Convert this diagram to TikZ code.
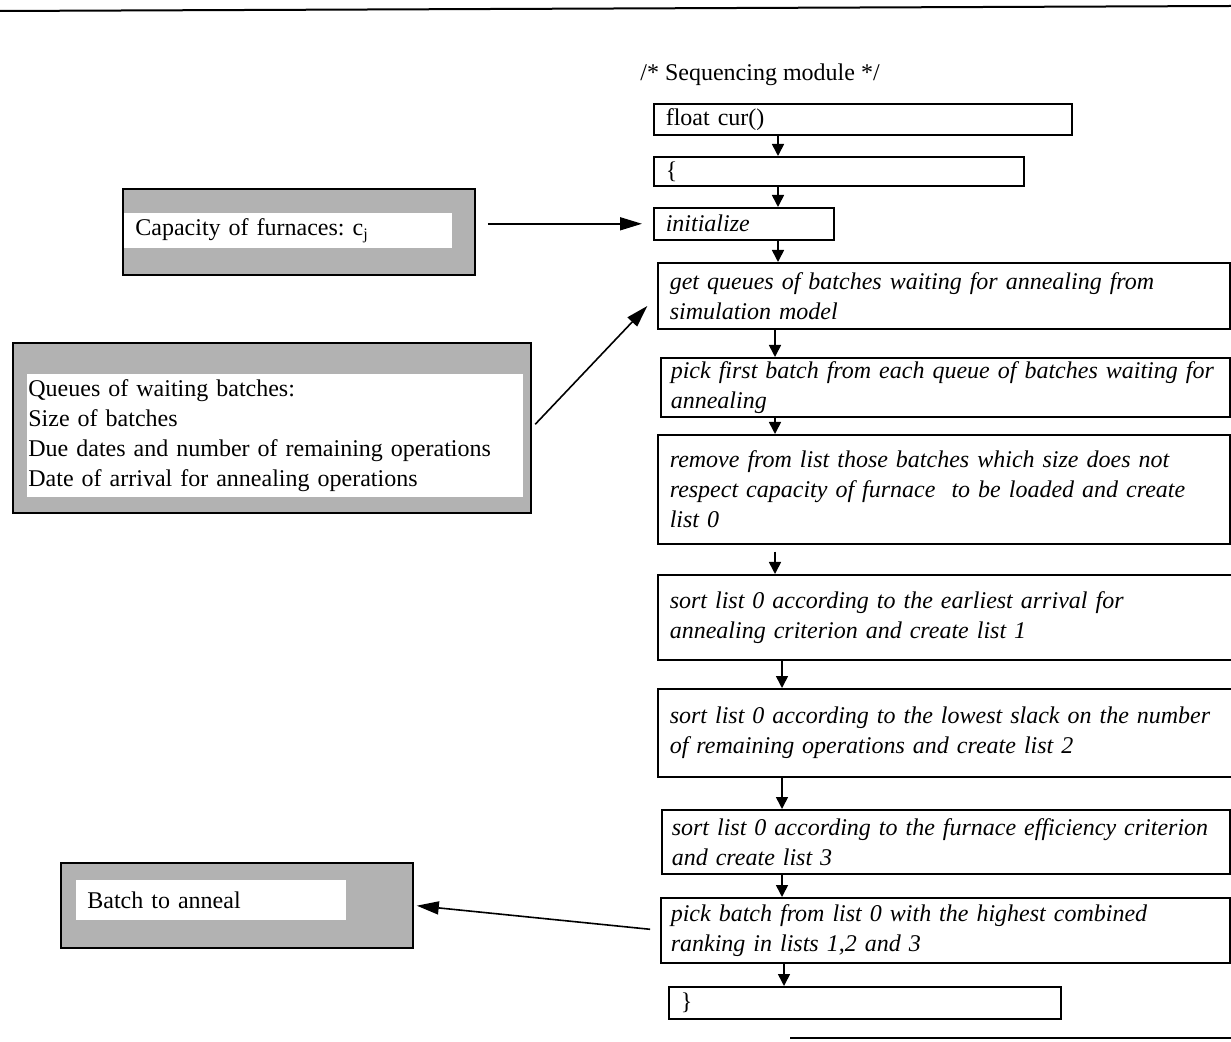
\documentclass[tikz,border=0pt]{standalone}
\usepackage{fontspec}
\setmainfont{Liberation Serif}
\usetikzlibrary{arrows.meta}

\tikzset{
  stepbox/.style={draw, line width=0.8pt, anchor=north west, align=left,
    inner xsep=6pt, inner ysep=0pt, font=\itshape},
  codebox/.style={stepbox, font=\upshape},
  boxdim/.style 2 args={text width=#1, minimum height=#2},
  databox/.style={draw, line width=0.9pt, fill=black!30, anchor=north west, inner sep=0pt},
  datatext/.style={fill=white, anchor=north west, align=left, inner ysep=0pt},
  flow/.style={line width=0.8pt, -{Triangle[length=6pt,width=6pt]}},
  feed/.style={line width=0.8pt, -{Triangle[length=11pt,width=6.5pt]}}
}

\begin{document}
\fontsize{12}{15}\selectfont\frenchspacing\hyphenpenalty=10000
\begin{tikzpicture}[x=0.5pt, y=-0.5pt]
  \useasboundingbox (0,0) rectangle (1231,1042);

  % rules at top and bottom of the page
  \draw[line width=1pt] (0,11) -- (1231,6);
  \draw[line width=1pt] (790,1038) -- (1231,1038);

  \node (title) at (760,75) {/* Sequencing module */};

  % sequencing steps
  \node[codebox, boxdim={197pt}{15.5pt}] (cur)    at (653,103) {float cur()};
  \node[codebox, boxdim={173pt}{14.5pt}] (open)   at (653,156) {\{};
  \node[stepbox, boxdim={78pt}{16pt}]    (init)   at (653,207) {initialize};
  \node[stepbox, boxdim={274pt}{33pt}]   (getq)   at (657,262)
    {get queues of batches waiting for annealing from\\simulation model};
  \node[stepbox, boxdim={274.5pt}{29.5pt}, inner xsep=5pt] (pickf) at (660,357)
    {pick first batch from each queue of batches waiting for\\annealing};
  \node[stepbox, boxdim={274pt}{54.5pt}] (remove) at (657,434)
    {remove from list those batches which size does not\\respect capacity of furnace\ \ to be loaded and create\\list 0};
  \node[stepbox, boxdim={275pt}{42.5pt}] (sortA)  at (657,574)
    {sort list 0 according to the earliest arrival for\\annealing criterion and create list 1};
  \node[stepbox, boxdim={275pt}{44pt}]   (sortB)  at (657,688)
    {sort list 0 according to the lowest slack on the number\\of remaining operations and create list 2};
  \node[stepbox, boxdim={274pt}{32pt}, inner xsep=5pt] (sortC) at (661,809)
    {sort list 0 according to the furnace efficiency criterion\\and create list 3};
  \node[stepbox, boxdim={274.5pt}{32.5pt}, inner xsep=5pt] (pickb) at (660,897)
    {pick batch from list 0 with the highest combined\\ranking in lists 1,2 and 3};
  \node[codebox, boxdim={184pt}{16pt}]   (close)  at (668,986) {\}};

  % data from the simulation model
  \node[databox, minimum width=176pt, minimum height=43pt] (capbox) at (122,188) {};
  \node[datatext, text width=153pt, inner xsep=5.5pt, minimum height=17.5pt] (captext) at (124,213)
    {Capacity of furnaces: c\raisebox{-0.3ex}{\footnotesize j}};
  \node[databox, minimum width=259pt, minimum height=85pt] (queuebox) at (12,342) {};
  \node[datatext, text width=247pt, inner xsep=0.5pt, minimum height=61.5pt] (queuetext) at (27,374)
    {Queues of waiting batches:\\Size of batches\\Due dates and number of remaining operations\\Date of arrival for annealing operations};
  \node[databox, minimum width=176pt, minimum height=42.5pt] (annealbox) at (60,862) {};
  \node[datatext, text width=124pt, inner xsep=5.5pt, minimum height=20pt] (annealtext) at (76,880)
    {Batch to anneal};

  % spine of the flow
  \coordinate (sA) at (778,0);
  \coordinate (sB) at (775,0);
  \coordinate (sC) at (782,0);
  \coordinate (sD) at (784,0);

  \draw[flow] (cur.south -| sA) -- (open.north -| sA);
  \draw[flow] (open.south -| sA) -- (init.north -| sA);
  \draw[flow] (init.south -| sA) -- (getq.north -| sA);
  \draw[flow] (getq.south -| sB) -- (pickf.north -| sB);
  \draw[flow] (pickf.south -| sB) -- (remove.north -| sB);
  \draw[flow, shorten <=3.5pt] (remove.south -| sB) -- (sortA.north -| sB);
  \draw[flow] (sortA.south -| sC) -- (sortB.north -| sC);
  \draw[flow] (sortB.south -| sC) -- (sortC.north -| sC);
  \draw[flow] (sortC.south -| sC) -- (pickb.north -| sC);
  \draw[flow] (pickb.south -| sD) -- (close.north -| sD);

  % inputs and output
  \draw[feed, shorten <=6pt, shorten >=5.5pt] (capbox.east |- init.west) -- (init.west);
  \draw[feed, shorten <=2.5pt, shorten >=7pt] (queuebox.east) -- (getq.west);
  \draw[feed, shorten <=5pt, shorten >=1.5pt] (pickb.west) -- (annealbox.east);
\end{tikzpicture}
\end{document}
